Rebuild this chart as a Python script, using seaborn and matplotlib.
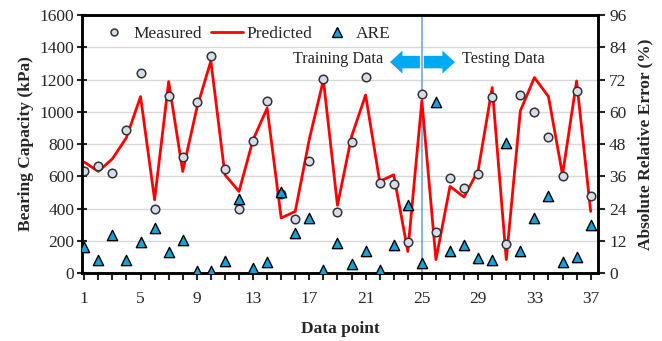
import matplotlib
matplotlib.use("Agg")
import matplotlib.pyplot as plt
from matplotlib.lines import Line2D
import seaborn as sns
import pandas as pd
import numpy as np

# values
data_point = list(range(1, 38))
measured = [630, 663, 623, 886, 1241, 396, 1096, 718, 1063, 1344, 644, 396, 820,
            1065, 491, 334, 696, 1202, 376, 813, 1214, 557, 553, 190, 1113,
            252, 588, 529, 613, 1090, 178, 1104, 1001, 846, 599, 1127, 475]
predicted = [688, 630, 708, 840, 1094, 454, 1187, 630, 1022, 1315, 609, 506, 826,
             1022, 341, 382, 830, 1197, 420, 846, 1104, 568, 609, 134, 1068,
             83, 537, 471, 636, 1150, 83, 1005, 1212, 1094, 609, 1191, 382]
are = [9.5, 4.7, 14.2, 4.7, 11.5, 16.7, 7.8, 12.3, 0.9, 0.9, 4.6, 27.5, 1.9,
       4.1, 30.0, 14.9, 20.4, 1.0, 11.0, 3.3, 8.3, 1.0, 10.3, 25.4, 3.7,
       63.8, 8.1, 10.5, 5.6, 5.0, 48.3, 8.3, 20.4, 28.5, 4.1, 5.8, 18.0]
x_ticks = list(range(1, 38, 4))
left_ticks = list(range(0, 1601, 200))
right_ticks = list(range(0, 97, 12))

df = pd.DataFrame({"point": data_point, "measured": measured,
                   "predicted": predicted, "are": are})

sns.set_style("white")
plt.rcParams["font.family"] = ["Liberation Serif", "DejaVu Serif"]
plt.rcParams["font.size"] = 12.5

fig = plt.figure(figsize=(6.62, 3.41), dpi=100)
ax = fig.add_axes([0.1239, 0.1994, 0.7794, 0.7566])

circle_face = "#d6dde8"
tri_face = "#12a3d8"

for y in left_ticks[1:]:
    ax.axhline(y, color="#d9d9d9", lw=1, zorder=0)

sns.lineplot(data=df, x="point", y="predicted", ax=ax, color="red", lw=2, zorder=2)
sns.scatterplot(data=df, x="point", y="measured", ax=ax, marker="o", s=38,
                color=circle_face, edgecolor="#333333", linewidth=1.1, zorder=3)

ax.axvline(25, color="#7aa6d6", lw=1.2, zorder=1)

ax.set_xlim(0.84, 37.52)
ax.set_ylim(0, 1600)
ax.set_xticks(x_ticks)
ax.set_xticks(data_point, minor=True)
ax.set_yticks(left_ticks)
ax.tick_params(axis="x", which="both", direction="out", length=5, width=1.5,
               bottom=True, labelsize=12.5, pad=8)
ax.tick_params(axis="y", direction="inout", length=7, width=1.5, left=True,
               labelsize=12.5, pad=2)
ax.set_xlabel("Data point", fontweight="bold", fontsize=12.5, labelpad=10)
ax.set_ylabel("Bearing Capacity (kPa)", fontweight="bold", fontsize=12.5, labelpad=4)
for s in ax.spines.values():
    s.set_color("black")
    s.set_linewidth(1.8)

ax2 = ax.twinx()
sns.scatterplot(data=df, x="point", y="are", ax=ax2, marker="^", s=55,
                color=tri_face, edgecolor="black", linewidth=1.0, zorder=4)
ax2.set_ylim(0, 96)
ax2.set_yticks(right_ticks)
ax2.tick_params(axis="y", direction="out", length=5, width=1.5, right=True,
                labelsize=12.5, pad=3)
ax2.set_ylabel("Absolute Relative Error (%)", fontweight="bold", fontsize=12.5,
               labelpad=8)
for s in ax2.spines.values():
    s.set_color("black")
    s.set_linewidth(1.8)

# training / testing annotation
arrow_style = "simple,head_length=0.9,head_width=1.65,tail_width=0.9"
ax.annotate("", xy=(22.73, 1308), xytext=(24.86, 1308),
            arrowprops=dict(arrowstyle=arrow_style, mutation_scale=10,
                            color="#00aaf0", lw=0, shrinkA=0, shrinkB=0))
ax.annotate("", xy=(27.35, 1308), xytext=(25.14, 1308),
            arrowprops=dict(arrowstyle=arrow_style, mutation_scale=10,
                            color="#00aaf0", lw=0, shrinkA=0, shrinkB=0))
ax.text(22.25, 1330, "Training Data", ha="right", va="center", fontsize=11.7, color="#222222")
ax.text(27.84, 1330, "Testing Data", ha="left", va="center", fontsize=11.7, color="#222222")

handles = [
    Line2D([], [], marker="o", ls="none", markersize=5, markerfacecolor=circle_face,
           markeredgecolor="#333333", markeredgewidth=1.1),
    Line2D([], [], color="red", lw=2),
    Line2D([], [], marker="^", ls="none", markersize=6.5, markerfacecolor=tri_face,
           markeredgecolor="black", markeredgewidth=1.0),
]
ax2.legend(handles, ["Measured", "Predicted", "ARE"], loc="upper left",
           bbox_to_anchor=(0.0, 1.02), ncol=3, frameon=False, fontsize=12.5,
           handlelength=1.85, handletextpad=0.2, columnspacing=0.5)

fig.savefig("out.png", dpi=100)
